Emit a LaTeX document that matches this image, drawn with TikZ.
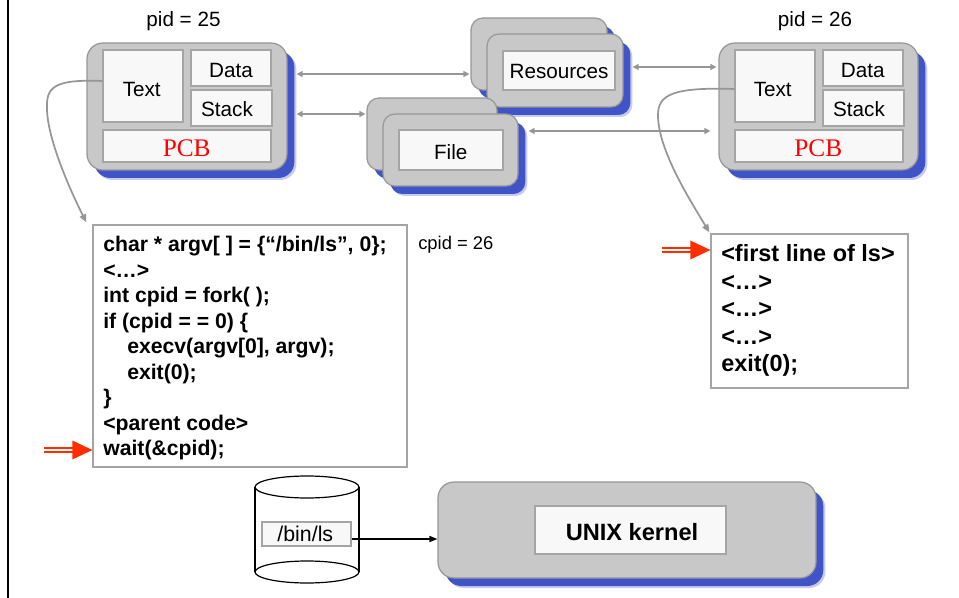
\documentclass[tikz,border=0pt]{standalone}
\usepackage{fontspec}
\setmainfont{Liberation Sans}
\newfontfamily\timesfont{Liberation Serif}
\usetikzlibrary{arrows.meta,calc,fit,shadows}
\definecolor{gfill}{RGB}{200,200,200}
\definecolor{gline}{RGB}{150,150,150}
\definecolor{wfill}{RGB}{248,248,248}
\definecolor{wline}{RGB}{165,165,165}
\definecolor{shblue}{RGB}{64,84,200}
\definecolor{arrgray}{RGB}{150,150,150}
\definecolor{redc}{RGB}{255,45,0}
\definecolor{pcbred}{RGB}{255,0,0}
\tikzset{
 sh/.style={drop shadow={shadow xshift=7pt, shadow yshift=-7.5pt, fill=shblue, opacity=0.3},
            drop shadow={shadow xshift=5.5pt, shadow yshift=-6pt, fill=shblue, opacity=1}},
 gbox/.style={draw=gline, line width=0.9pt, fill=gfill, rounded corners=12pt, inner sep=0pt, sh},
 sbox/.style={gbox, rounded corners=9pt},
 wbox/.style={draw=wline, line width=0.9pt, fill=wfill, inner sep=0pt},
 lbl/.style={font=\fontsize{15.5pt}{18pt}\selectfont, inner sep=0pt},
 pcbl/.style={font=\timesfont\fontsize{19pt}{22pt}\selectfont, text=pcbred, inner sep=0pt},
 garrow/.style={draw=arrgray, line width=1.1pt, {Triangle[length=4.5pt,width=4.5pt]}-{Triangle[length=4.5pt,width=4.5pt]}},
 carrow/.style={draw=arrgray, line width=1.3pt, -{Triangle[length=6pt,width=5pt]}},
 codebox/.style={draw=wline, line width=1pt, fill=white, inner sep=0pt},
 redshaft/.style={draw=redc, line width=1.4pt, double=white, double distance=1.5pt},
}
\newcommand{\myredarrow}[1]{%
  \draw[redshaft] ($(#1)+(-48,0)$) -- ($(#1)+(-19,0)$);
  \fill[redc] ($(#1)+(-20,-9.5)$) -- (#1) -- ($(#1)+(-20,9.5)$) -- cycle;}
\begin{document}
\begin{tikzpicture}[x=0.75pt, y=-0.75pt]
\useasboundingbox (0,0) rectangle (959,598);
\draw[line width=1.3pt] (8,0) -- (8,598);

% titles
\node[lbl, anchor=base] (pid25) at (183.5,27) {pid = 25};
\node[lbl, anchor=base] (pid26) at (815,27) {pid = 26};
\node[font=\fontsize{13.8pt}{16pt}\selectfont, anchor=base west, inner sep=0pt] (cpid) at (418,250) {cpid = 26};

% left PCB
\node[gbox, fit={(87,43)(287,170)}] (pcbL) {};
\node[wbox, fit={(103,50)(183,122)}] (textL) {};
\node[wbox, fit={(191,50)(271,86)}] (dataL) {};
\node[wbox, fit={(191,90)(272,126)}] (stackL) {};
\node[wbox, fit={(103,130)(271,162)}] (pcbLbox) {};
\node[lbl] (textLt) at (141.7,89) {Text};
\node[lbl] (dataLt) at (231,70) {Data};
\node[lbl] (stackLt) at (227,109) {Stack};
\node[pcbl] (pcbLt) at (186.7,148) {PCB};

% right PCB
\node[gbox, fit={(719,43)(918,170)}] (pcbR) {};
\node[wbox, fit={(735,50)(815,122)}] (textR) {};
\node[wbox, fit={(823,50)(903,86)}] (dataR) {};
\node[wbox, fit={(823,90)(904,126)}] (stackR) {};
\node[wbox, fit={(735,130)(903,162)}] (pcbRbox) {};
\node[lbl] (textRt) at (772.7,89) {Text};
\node[lbl] (dataRt) at (862.7,70) {Data};
\node[lbl] (stackRt) at (859,109) {Stack};
\node[pcbl] (pcbRt) at (818.3,148) {PCB};

% resources
\node[sbox, fit={(471,18)(607,90)}] (resB) {};
\node[sbox, fit={(487,34)(623,107)}] (resF) {};
\node[wbox, fit={(503,51)(615,90)}] (resI) {};
\node[lbl] (resT) at (559,71.7) {Resources};

% file
\node[sbox, fit={(367,98)(497,170)}] (fileB) {};
\node[sbox, fit={(383,114)(518,186)}] (fileF) {};
\node[wbox, fit={(399,130)(503,170)}] (fileI) {};
\node[lbl] (fileT) at (450.7,151.7) {File};

% connectors between PCBs and resources
\draw[garrow, shorten <=6.75pt, shorten >=0.75pt] (pcbL.east |- 0,74) -- (resB.west |- 0,74);
\draw[garrow, shorten <=6.75pt, shorten >=0.75pt] (pcbL.east |- 0,114) -- (fileB.west |- 0,114);
\draw[garrow, shorten <=6.75pt, shorten >=1.5pt] (resF.east |- 0,67) -- (pcbR.west |- 0,67);
\draw[garrow, shorten <=7.5pt, shorten >=6pt] (fileF.east |- 0,131) -- (pcbR.west |- 0,131);

% code boxes
\node[codebox, fit={(93,225)(407,467)}] (codeL) {};
\node[anchor=base west, inner sep=0pt] (codeLtext) at (103,252) {\parbox[t]{290pt}{\fontsize{15.9pt}{19.1pt}\selectfont\bfseries
char * argv[ ] = \{“/bin/ls”, 0\};\\
<…>\\
int cpid = fork( );\\
if (cpid = = 0) \{\\
\hspace*{18pt}execv(argv[0], argv);\\
\hspace*{18pt}exit(0);\\
\}\\
<parent code>\\
wait(\&cpid);}};

\node[codebox, fit={(711,234)(908,388)}] (codeR) {};
\node[anchor=base west, inner sep=0pt] (codeRtext) at (721,262) {\parbox[t]{180pt}{\fontsize{17.6pt}{20.6pt}\selectfont\bfseries
<first line of ls>\\
<…>\\
<…>\\
<…>\\
exit(0);}};

% curved arrows
\draw[carrow] (textL.west |- 0,81) .. controls (52,79) and (46,88) .. (47,110) .. controls (48,140) and (70,190) .. ($(codeL.north west)+(-6,-2)$);
\draw[carrow] (textR.west |- 0,89) .. controls (672,87) and (658,95) .. (658,115) .. controls (658,150) and (690,200) .. ($(codeR.north west)+(-1,-1)$);

% red arrows
\coordinate (tipL) at (codeL.west |- 0,450);
\coordinate (tipR) at (codeR.west |- 0,250);
\myredarrow{tipL}
\myredarrow{tipR}

% disk
\fill[white] (255,487) rectangle (359,572);
\draw[line width=0.9pt] (255,487) -- (255,572);
\draw[line width=0.9pt] (359,487) -- (359,572);
\draw[line width=0.9pt, fill=white] (307,487) ellipse [x radius=52, y radius=11];
\draw[line width=0.9pt, fill=white] (307,572) ellipse [x radius=52, y radius=11];
\node[wbox, fit={(262,522)(351,546)}] (binls) {};
\node[font=\fontsize{16pt}{18pt}\selectfont, inner sep=0pt] (binlsT) at (305.3,534.3) {/bin/ls};

% kernel
\node[gbox, fit={(438,482)(816,578)}] (kernel) {};
\node[wbox, fit={(535,506)(726,554)}] (kernelI) {};
\node[font=\fontsize{17.7pt}{20pt}\selectfont\bfseries, inner sep=0pt] (kernelT) at (632,531.7) {UNIX kernel};
\draw[line width=1.1pt, -{Triangle[length=6pt,width=4.5pt]}] (binls.east |- 0,539) -- (kernel.west |- 0,539);
\end{tikzpicture}
\end{document}
